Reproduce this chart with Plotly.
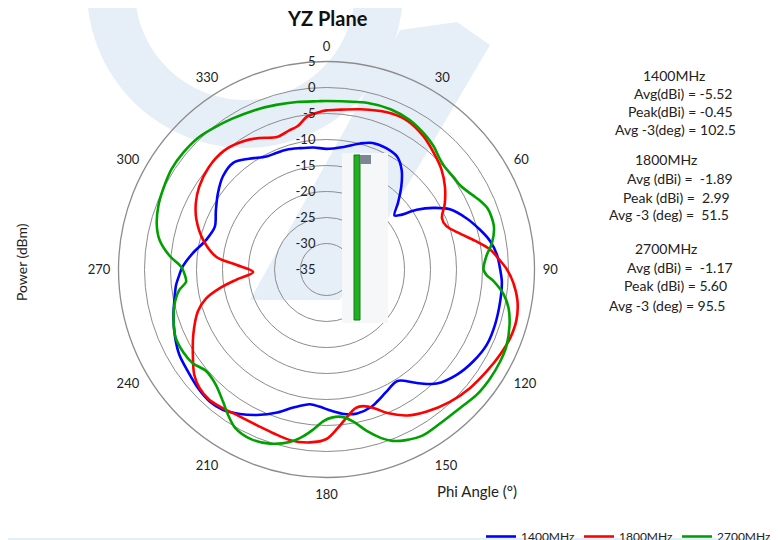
import numpy as np
import plotly.graph_objects as go

# ---------------- data ----------------
angle_ticks = [0, 30, 60, 90, 120, 150, 180, 210, 240, 270, 300, 330]
radial_ticks = [-35, -30, -25, -20, -15, -10, -5, 0, 5]

theta_1400 = [0, 8, 15, 20, 26, 32, 37, 42, 47, 51.5, 53.5, 56.5, 60, 64, 70, 75.5, 80, 85, 90,
              94, 100, 108, 115, 122, 129, 136, 141.5, 147.5, 154, 159, 162, 168, 173, 178, 183,
              187, 193.5, 199, 205.5, 211, 216.5, 221.5, 227, 233.5, 240, 246.5, 253.5, 259.5,
              264, 268, 271, 277, 284, 291, 298, 305, 312, 319, 325, 332, 337, 341.5, 347.5, 354]
r_1400 = [-11.8, -11.2, -9.9, -9.1, -9.0, -9.4, -11.0, -13.5, -16.2, -18.3, -17.4, -14.2, -11.3,
          -8.6, -6.3, -4.5, -3.1, -2.1, -1.6, -1.2, -1.05, -0.9, -0.95, -1.7, -2.8, -4.5, -7.1,
          -9.6, -8.8, -7.8, -7.2, -6.7, -7.0, -7.8, -8.6, -8.9, -7.7, -5.9, -4.0, -2.6, -1.45,
          -1.1, -1.35, -1.9, -2.3, -3.2, -4.3, -5.3, -5.9, -6.7, -7.3, -9.1, -11.2, -12.0, -10.9,
          -9.5, -8.2, -7.75, -9.0, -10.4, -10.6, -10.7, -11.1, -11.4]

theta_1800 = [0, 4, 12, 21, 28, 36, 43, 49, 55, 61, 66, 70, 75, 79.5, 83, 87, 90, 94, 99.5, 105,
              110.5, 116, 122.5, 129.5, 137, 145, 151, 157, 161, 165, 168, 172, 176, 180, 185.5,
              192, 198, 204, 211, 217, 222, 227, 231.5, 236.5, 244, 252, 256.5, 260, 263.5, 268,
              273, 276.5, 283.5, 291, 297, 303, 311, 319, 327, 333, 339.5, 345, 348.5, 353, 358]
r_1800 = [-4.4, -4.2, -3.5, -2.6, -2.4, -3.3, -4.6, -5.7, -7.2, -9.0, -10.7, -10.5, -8.4, -5.6,
          -3.3, -1.6, -0.3, 1.0, 2.25, 2.8, 2.7, 2.2, 1.5, 0.8, -0.2, -1.6, -2.9, -5.0, -6.8,
          -7.8, -7.8, -6.4, -4.4, -2.4, -1.6, -1.45, -1.9, -2.2, -2.15, -1.7, -1.3, -1.6, -2.5,
          -4.2, -6.5, -9.0, -11.2, -14.1, -17.5, -20.9, -17.6, -13.7, -10.6, -8.2, -6.8, -5.8,
          -5.0, -4.8, -5.6, -6.6, -7.8, -7.3, -6.9, -5.3, -4.6]

theta_2700 = [0, 14, 22, 29, 37, 41, 46, 49, 54, 58, 61, 64, 66, 69, 72, 76, 81, 85, 90, 92, 94,
              98, 102, 107, 113, 118, 124, 130, 136, 144, 150, 155, 159, 162, 166, 170, 174, 178,
              181, 185, 188, 192, 198, 204, 210, 214, 218, 224, 230, 235, 240, 246, 251, 257, 262,
              265, 268, 271, 275, 280, 285, 291, 296, 303, 309, 316, 322, 328, 336, 343, 350, 357]
r_2700 = [-2.6, -2.0, -1.8, -2.1, -3.0, -3.6, -4.6, -4.9, -4.8, -4.6, -4.0, -3.2, -2.6, -1.9,
          -1.7, -1.8, -2.8, -4.1, -4.8, -4.2, -2.8, -0.6, 0.8, 1.8, 2.6, 2.8, 2.8, 2.6, 2.0, 1.8,
          1.9, 1.2, 0.3, -0.9, -3.0, -5.3, -6.5, -6.5, -5.9, -4.0, -2.6, -1.1, 0.2, 0.7, 0.15,
          -1.2, -2.7, -4.3, -4.7, -3.6, -3.2, -3.2, -3.9, -5.0, -6.4, -7.9, -7.7, -7.1, -4.7, -2.4,
          -1.2, -0.4, 0.0, 0.5, 0.55, 0.35, -0.25, -0.8, -1.4, -1.9, -2.3, -2.6]

series_names = ["1400MHz", "1800MHz", "2700MHz"]
series_colors = ["#0000FF", "#FF0000", "#00A000"]

info_lines = ["1400MHz", "Avg(dBi) = -5.52", "Peak(dBi) = -0.45", "Avg -3(deg) = 102.5",
              "1800MHz", "Avg (dBi) =  -1.89", "Peak (dBi) =  2.99", "Avg -3 (deg) =  51.5",
              "2700MHz", "Avg (dBi) =  -1.17", "Peak (dBi) = 5.60", "Avg -3 (deg) = 95.5"]
info_x = [674, 683, 680, 675, 666, 680, 676, 669, 666, 680, 675, 667]
info_y = [75, 93, 111, 130, 160, 178, 197, 215, 248, 267, 285, 305]

W, H = 778, 540
OFF = 8  # the page body adds an 8 px margin; compensate so the screen matches
FONT = "Lato, 'Open Sans', sans-serif"
WM = "#E6EFF7"  # watermark colour


def px(x):
    return (x - OFF) / W


def py(y):
    return 1 - (y - OFF) / H


fig = go.Figure()
for th, rr, name, col in zip([theta_1400, theta_1800, theta_2700],
                             [r_1400, r_1800, r_2700], series_names, series_colors):
    fig.add_trace(go.Scatterpolar(
        theta=th + [th[0] + 360], r=rr + [rr[0]], name=name, mode="lines",
        line=dict(color=col, width=2.6, shape="spline", smoothing=0.9),
    ))

cx, cy, R = 326.5, 269.5, 208
fig.update_layout(
    width=W, height=H, autosize=False,
    margin=dict(l=0, r=0, t=0, b=0, autoexpand=False),
    paper_bgcolor="white", plot_bgcolor="white",
    font=dict(family=FONT, size=13, color="#222222"),
    polar=dict(
        domain=dict(x=[px(cx - R), px(cx + R)], y=[py(cy + R), py(cy - R)]),
        bgcolor="rgba(0,0,0,0)",
        angularaxis=dict(rotation=90, direction="clockwise", tickmode="array",
                         tickvals=angle_ticks, ticktext=[str(a) for a in angle_ticks],
                         showgrid=False, showline=True, linecolor="#8C8C8C", linewidth=1.3,
                         ticks="outside", ticklen=5, tickcolor="rgba(0,0,0,0)",
                         tickfont=dict(size=13, color="#222222")),
        radialaxis=dict(range=[-35, 5], tickmode="array", tickvals=radial_ticks,
                        ticktext=[str(v) for v in radial_ticks], angle=90,
                        side="counterclockwise", showline=False, showgrid=True,
                        gridcolor="#8C8C8C", gridwidth=1.3, ticks="outside", ticklen=6,
                        tickcolor="rgba(0,0,0,0)", tickangle=90,
                        tickfont=dict(size=13, color="#222222")),
    ),
    showlegend=True,
    legend=dict(orientation="h", x=px(481), y=py(522), xanchor="left", yanchor="top",
                font=dict(size=12, color="#222222"), bgcolor="rgba(0,0,0,0)",
                entrywidth=53, entrywidthmode="pixels", itemwidth=30),
)

annotations = [
    dict(text="<b>YZ Plane</b>", x=px(327), y=py(18), font=dict(size=20, color="#111111")),
    dict(text="Power (dBm)", x=px(22), y=py(262), textangle=-90, font=dict(size=14)),
    dict(text="Phi Angle (°)", x=px(477), y=py(491), font=dict(size=15)),
]
for t, x, y in zip(info_lines, info_x, info_y):
    annotations.append(dict(text=t, x=px(x), y=py(y), font=dict(size=14)))
for a in annotations:
    a.update(xref="paper", yref="paper", showarrow=False, xanchor="center", yanchor="middle")
fig.update_layout(annotations=annotations)


def path_from_px(points):
    return "M " + " L ".join(f"{px(x):.5f},{py(y):.5f}" for x, y in points) + " Z"


# faint watermark: ring at the top-left and a diagonal band
a = np.linspace(0, 2 * np.pi, 121)
ring_c, r_out, r_in = (245, -10), 158, 110
outer = [(ring_c[0] + r_out * np.cos(t), ring_c[1] + r_out * np.sin(t)) for t in a]
inner = [(ring_c[0] + r_in * np.cos(t), ring_c[1] + r_in * np.sin(t)) for t in a[::-1]]
ring_path = path_from_px(outer + inner)
band_path = path_from_px([(250, 300), (400, 30), (457, 22), (490, 45), (340, 300)])

shapes = [
    dict(type="path", path=ring_path, fillcolor=WM, line=dict(width=0), layer="below"),
    dict(type="path", path=band_path, fillcolor=WM, line=dict(width=0), layer="below"),
    # antenna picture in the middle of the chart
    dict(type="rect", x0=px(342), x1=px(388), y0=py(323), y1=py(153),
         fillcolor="#F6F7F9", line=dict(width=0), layer="above"),
    dict(type="rect", x0=px(354), x1=px(360), y0=py(320), y1=py(155),
         fillcolor="#22B022", line=dict(color="#157A15", width=1), layer="above"),
    dict(type="rect", x0=px(360), x1=px(371), y0=py(164), y1=py(155),
         fillcolor="#7D8694", line=dict(width=0), layer="above"),
    dict(type="rect", x0=0, x1=1, y0=py(548), y1=py(538), fillcolor="#E3F1F6",
         line=dict(width=0), layer="below"),
]
for s in shapes:
    s.update(xref="paper", yref="paper")
fig.update_layout(shapes=shapes)

fig.write_html("out.html")
